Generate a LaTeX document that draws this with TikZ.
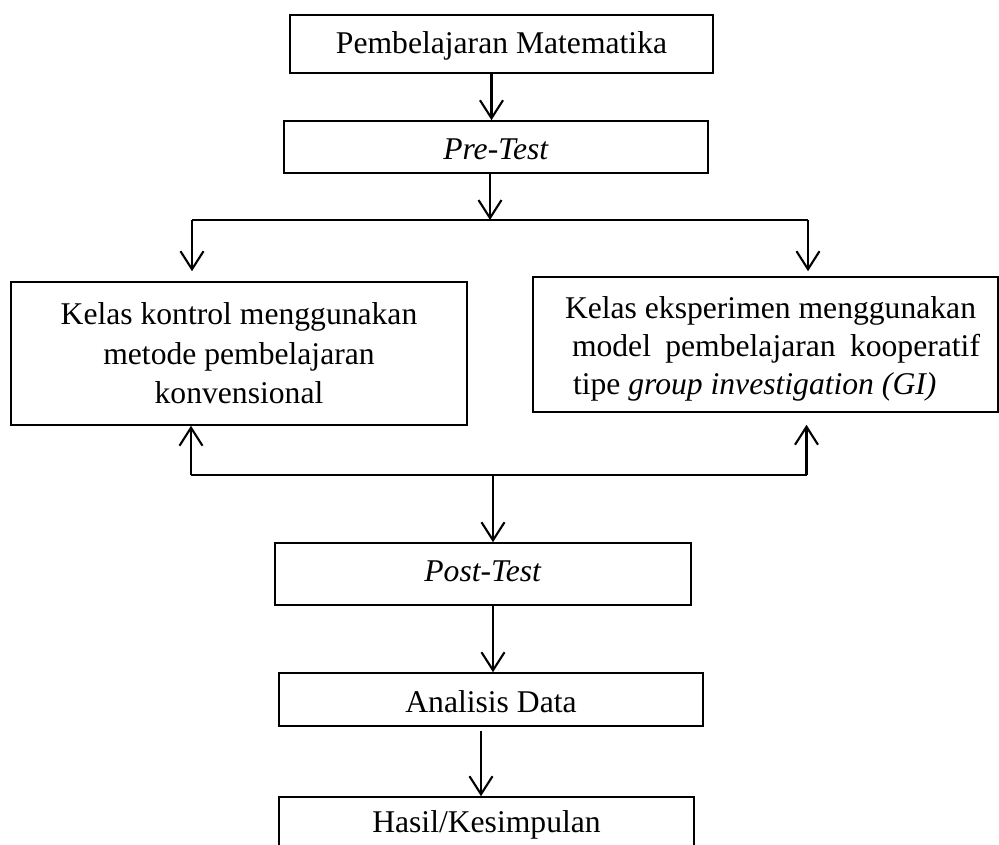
\documentclass[tikz,border=0pt]{standalone}
\usepackage{fontspec}
\setmainfont{Liberation Serif}
\usetikzlibrary{positioning}
\usetikzlibrary{calc}
\usetikzlibrary{arrows.meta}

\begin{document}
\begin{tikzpicture}[kotak/.style={draw, line width=0.9pt, inner sep=0pt, font=\fontsize{18pt}{21.6pt}\selectfont},
        panah/.style={line width=1.2pt, -{Straight Barb[length=0.36cm, width=0.46cm]}}]
            \useasboundingbox (0,0) rectangle (19.98,16.9);
            \clip (0,0) rectangle (19.98,16.9);

            \node[kotak, minimum width=8.46cm, minimum height=1.16cm, text height=0.55cm, text depth=0.15cm] (mat) at (10.03,16.02) {Pembelajaran Matematika};
            \node[kotak, minimum width=8.48cm, minimum height=1.04cm, text height=0.67cm, text depth=0.15cm] (pre) at (9.92,13.96) {\textit{Pre-Test}};
            \node[kotak, minimum width=9.12cm, minimum height=2.86cm, align=center, font=\fontsize{18pt}{22.4pt}\selectfont] (kon) at (4.78,9.83) {Kelas kontrol menggunakan\\metode pembelajaran\\konvensional};
            \node[kotak] (eks) at (15.31,10.01) {\parbox[c][2.7cm][c]{9.3cm}{\fontsize{18pt}{21.6pt}\selectfont
                \vspace*{0.16cm}\hspace*{0.64cm}Kelas eksperimen menggunakan\\
                \hspace*{0.78cm}\makebox[8.16cm][s]{model pembelajaran kooperatif}\\
                \hspace*{0.8cm}tipe \textit{group investigation (GI)}}};
            \node[kotak, minimum width=8.32cm, minimum height=1.24cm, text height=0.47cm, text depth=0.15cm] (post) at (9.66,5.42) {\textit{Post-Test}};
            \node[kotak, minimum width=8.48cm, minimum height=1.06cm, text height=0.69cm, text depth=0.15cm] (ana) at (9.82,2.91) {Analisis Data};
            \node[kotak, minimum width=8.3cm, minimum height=1.06cm, text height=0.53cm, text depth=0.15cm] (has) at (9.73,0.43) {Hasil/Kesimpulan};

            % percabangan
            \coordinate (bagi) at (9.8,12.5);
            \coordinate (bagiL) at (3.84,12.5);
            \coordinate (bagiR) at (16.16,12.5);
            \coordinate (gab) at (9.86,7.4);
            \coordinate (gabL) at (3.82,7.4);
            \coordinate (gabR) at (16.13,7.4);

            \draw[panah] ([xshift=-0.2cm]mat.south) -- ([xshift=-0.2cm]mat.south |- pre.north);
            \draw[panah] (pre.south -| bagi) -- (bagi);
            \draw[line width=1.2pt] (bagiL) -- (bagiR);
            \draw[panah, shorten >=0.2cm] (bagiL) -- (bagiL |- kon.north);
            \draw[panah, shorten >=0.1cm] (bagiR) -- (bagiR |- eks.north);

            \draw[line width=1.2pt] (gabL) -- (gabR);
            \draw[panah] (gabL) -- (gabL |- kon.south);
            \draw[panah, shorten >=0.24cm] (gabR) -- (gabR |- eks.south);
            \draw[panah] (gab) -- (gab |- post.north);

            \draw[panah] ([xshift=0.2cm]post.south) -- ([xshift=0.2cm]post.south |- ana.north);
            \draw[panah, shorten <=0.08cm] ([xshift=-0.2cm]ana.south) -- ([xshift=-0.2cm]ana.south |- has.north);
        \end{tikzpicture}
\end{document}
